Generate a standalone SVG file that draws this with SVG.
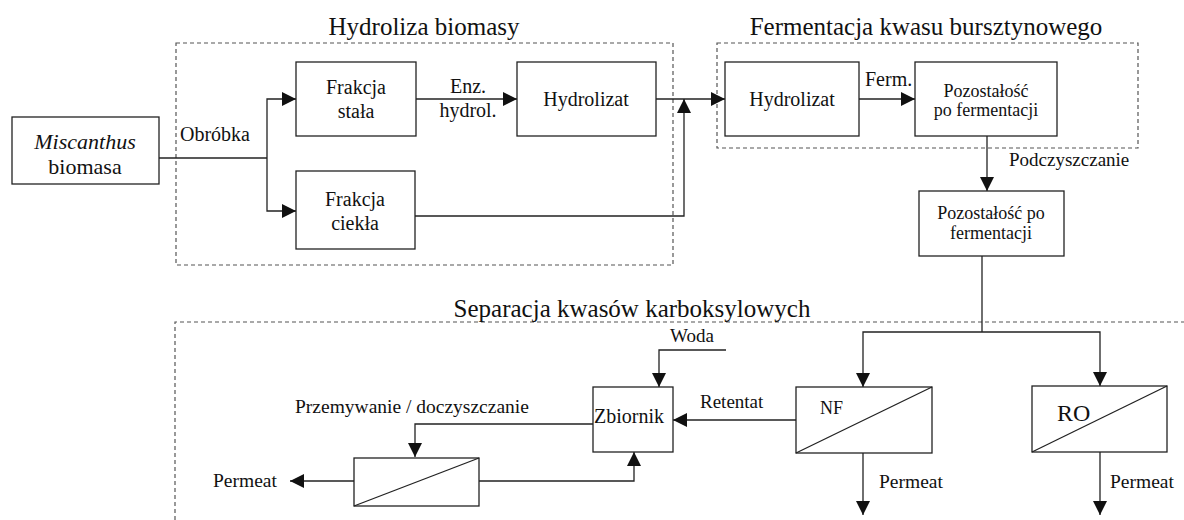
<svg xmlns="http://www.w3.org/2000/svg" width="1184" height="520" viewBox="0 0 1184 520" font-family="'Liberation Serif', Tinos, 'Times New Roman', 'DejaVu Serif', serif">
<defs>
<marker id="ah" markerWidth="15" markerHeight="14" refX="14" refY="7" orient="auto" markerUnits="userSpaceOnUse">
<path d="M0,0 L14,7 L0,14 Z" fill="#111"/>
</marker>
<style>
.box{fill:#fff;stroke:#222;stroke-width:1.3}
.grp{fill:none;stroke:#555;stroke-width:1.2;stroke-dasharray:4,3}
.ln{fill:none;stroke:#222;stroke-width:1.3}
.arr{fill:none;stroke:#222;stroke-width:1.3;marker-end:url(#ah)}
.t{fill:#111;font-size:20px}
.s{font-size:18px}
.h{font-size:25px}
.m{text-anchor:middle}
</style>
</defs>
<rect width="1184" height="520" fill="#fff"/>
<g id="groups">
<rect class="grp" x="176" y="43" width="497" height="222"/>
<text class="t h m" x="424" y="35">Hydroliza biomasy</text>
<rect class="grp" x="717" y="43" width="421" height="105"/>
<text class="t h m" x="926" y="35">Fermentacja kwasu bursztynowego</text>
<path class="grp" d="M175,520 L175,322 L1184,322"/>
<text class="t h m" x="632" y="317">Separacja kwasów karboksylowych</text>
</g>
<g id="connectors">
<path class="ln" d="M159,158 L267,158"/>
<path class="arr" d="M267,158 L267,99 L296,99"/>
<path class="arr" d="M267,158 L267,211 L296,211"/>
<path class="arr" d="M416,99 L517,99"/>
<path class="arr" d="M656,99 L725,99"/>
<path class="arr" d="M415,216 L684,216 L684,99"/>
<path class="arr" d="M859,99 L915,99"/>
<path class="arr" d="M987,136 L987,191"/>
<path class="ln" d="M982,256 L982,332"/>
<path class="arr" d="M982,332 L863,332 L863,387"/>
<path class="arr" d="M982,332 L1100,332 L1100,386"/>
<path class="arr" d="M863,453 L863,515"/>
<path class="arr" d="M1100,452 L1100,515"/>
<path class="arr" d="M796,420 L673,420"/>
<path class="arr" d="M726,350 L659,350 L659,387"/>
<path class="arr" d="M593,424 L415,424 L415,457"/>
<path class="arr" d="M479,481 L634,481 L634,452"/>
<path class="arr" d="M354,481 L290,481"/>
<text class="t" x="180" y="141">Obróbka</text>
<text class="t m" x="468" y="93">Enz.</text>
<text class="t m" x="468" y="117">hydrol.</text>
<text class="t" x="865" y="86">Ferm.</text>
<text class="t" x="1009" y="166" style="font-size:19px">Podczyszczanie</text>
<text class="t" x="700" y="408" style="font-size:19px">Retentat</text>
<text class="t m" x="692" y="342" style="font-size:19px">Woda</text>
<text class="t" x="295" y="413" style="font-size:19.5px">Przemywanie / doczyszczanie</text>
<text class="t" x="213" y="487" style="font-size:19.5px">Permeat</text>
<text class="t" x="879" y="488" style="font-size:19.5px">Permeat</text>
<text class="t" x="1110" y="488" style="font-size:19.5px">Permeat</text>
</g>
<g id="n-miscanthus">
<rect class="box" x="12" y="117" width="147" height="67"/>
<text class="t m" x="85" y="149" style="font-size:22px;font-style:italic">Miscanthus</text>
<text class="t m" x="85" y="174" style="font-size:22px">biomasa</text>
</g>
<g id="n-stala">
<rect class="box" x="296" y="62" width="120" height="74"/>
<text class="t m" x="356" y="94">Frakcja</text>
<text class="t m" x="356" y="118">stała</text>
</g>
<g id="n-ciekla">
<rect class="box" x="296" y="171" width="119" height="78"/>
<text class="t m" x="355" y="206">Frakcja</text>
<text class="t m" x="355" y="230">ciekła</text>
</g>
<g id="n-hydrolizat1">
<rect class="box" x="517" y="62" width="139" height="74"/>
<text class="t m" x="586" y="106">Hydrolizat</text>
</g>
<g id="n-hydrolizat2">
<rect class="box" x="725" y="62" width="134" height="74"/>
<text class="t m" x="792" y="106">Hydrolizat</text>
</g>
<g id="n-pozostalosc1">
<rect class="box" x="915" y="62" width="142" height="74"/>
<text class="t s m" x="986" y="97">Pozostałość</text>
<text class="t s m" x="986" y="116">po fermentacji</text>
</g>
<g id="n-pozostalosc2">
<rect class="box" x="919" y="191" width="145" height="65"/>
<text class="t s m" x="991" y="219">Pozostałość po</text>
<text class="t s m" x="991" y="239">fermentacji</text>
</g>
<g id="n-nf">
<rect class="box" x="796" y="387" width="136" height="66"/>
<path class="ln" d="M796,453 L932,387"/>
<text class="t" x="820" y="414" style="font-size:18px">NF</text>
</g>
<g id="n-ro">
<rect class="box" x="1032" y="386" width="135" height="66"/>
<path class="ln" d="M1032,452 L1167,386"/>
<text class="t" x="1057" y="421" style="font-size:24px">RO</text>
</g>
<g id="n-zbiornik">
<rect class="box" x="593" y="387" width="80" height="65"/>
<text class="t" x="594" y="423">Zbiornik</text>
</g>
<g id="n-membrana">
<rect class="box" x="354" y="458" width="125" height="48"/>
<path class="ln" d="M354,506 L479,458"/>
</g>
</svg>
